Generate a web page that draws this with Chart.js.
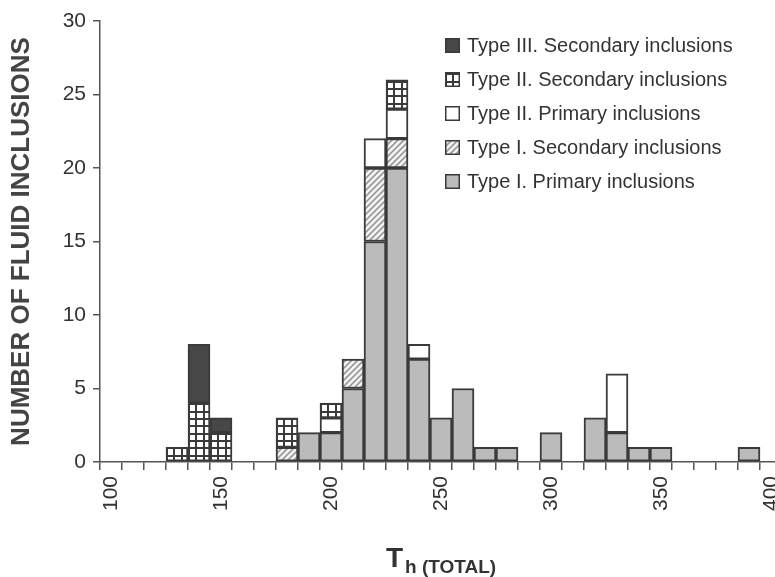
<!DOCTYPE html>
<html>
<head>
<meta charset="utf-8">
<script src="https://cdn.jsdelivr.net/npm/chart.js"></script>
<style>
  html, body { margin: 0; padding: 0; background: #fff; overflow: hidden; }
  canvas { display: block; }
</style>
</head>
<body>
<canvas id="chart" width="790" height="577"></canvas>
<script>
// bins of Th (TOTAL), 10 degrees wide
const binLabels = ['100', '110', '120', '130', '140', '150', '160', '170', '180', '190',
  '200', '210', '220', '230', '240', '250', '260', '270', '280', '290',
  '300', '310', '320', '330', '340', '350', '360', '370', '380', '390', '400'];

// number of inclusions per bin
const typeIPrimary     = [0, 0, 0, 0, 0, 0, 0, 0, 0, 2, 2, 5, 15, 20, 7, 3, 5, 1, 1, 0, 2, 0, 3, 2, 1, 1, 0, 0, 0, 1, 0];
const typeISecondary   = [0, 0, 0, 0, 0, 0, 0, 0, 1, 0, 0, 2, 5, 2, 0, 0, 0, 0, 0, 0, 0, 0, 0, 0, 0, 0, 0, 0, 0, 0, 0];
const typeIIPrimary    = [0, 0, 0, 0, 0, 0, 0, 0, 0, 0, 1, 0, 2, 2, 1, 0, 0, 0, 0, 0, 0, 0, 0, 4, 0, 0, 0, 0, 0, 0, 0];
const typeIISecondary  = [0, 0, 0, 1, 4, 2, 0, 0, 2, 0, 1, 0, 0, 2, 0, 0, 0, 0, 0, 0, 0, 0, 0, 0, 0, 0, 0, 0, 0, 0, 0];
const typeIIISecondary = [0, 0, 0, 0, 4, 1, 0, 0, 0, 0, 0, 0, 0, 0, 0, 0, 0, 0, 0, 0, 0, 0, 0, 0, 0, 0, 0, 0, 0, 0, 0];

const yTicks = [0, 5, 10, 15, 20, 25, 30];
const xLabelsShown = ['100', '150', '200', '250', '300', '350', '400'];

const FONT = "'Liberation Sans', Arial, sans-serif";
const ctx = document.getElementById('chart').getContext('2d');

// fill patterns
function gridPattern() {
  const c = document.createElement('canvas');
  c.width = 22; c.height = 44;
  const g = c.getContext('2d');
  g.fillStyle = '#fff';
  g.fillRect(0, 0, 22, 44);
  g.fillStyle = '#3a3a3a';
  for (let i = 0; i < 3; i++) g.fillRect(Math.round(i * 22 / 3), 0, 2, 44);
  for (let j = 0; j < 6; j++) g.fillRect(0, Math.round(j * 44 / 6), 22, 2);
  return ctx.createPattern(c, 'repeat');
}

function hatchPattern() {
  const c = document.createElement('canvas');
  c.width = 6; c.height = 6;
  const g = c.getContext('2d');
  g.fillStyle = '#f4f4f4';
  g.fillRect(0, 0, 6, 6);
  g.strokeStyle = '#999';
  g.lineWidth = 1.6;
  g.beginPath();
  g.moveTo(-1, 7); g.lineTo(7, -1);
  g.moveTo(-1, 1); g.lineTo(1, -1);
  g.moveTo(5, 7); g.lineTo(7, 5);
  g.stroke();
  return ctx.createPattern(c, 'repeat');
}

const gridFill = gridPattern();
const hatchFill = hatchPattern();

const nz = arr => arr.map(v => v === 0 ? null : v);

function bars(label, data, fill) {
  return {
    label: label,
    data: nz(data),
    backgroundColor: fill,
    borderColor: '#3a3a3a',
    borderWidth: 2,
    borderSkipped: false,
    barPercentage: 1,
    categoryPercentage: 1,
    stack: 'all'
  };
}

// keep patterns anchored to the plot so grid cells line up with the bins
const patternAnchor = {
  id: 'patternAnchor',
  beforeDatasetsDraw(chart) {
    const a = chart.chartArea;
    const m = new DOMMatrix([1, 0, 0, 1, a.left, a.bottom]);
    gridFill.setTransform(m);
    hatchFill.setTransform(m);
  }
};

// legend inside the plot, top right
const boxLegend = {
  id: 'boxLegend',
  afterDraw(chart) {
    const c = chart.ctx;
    const items = chart.data.datasets.slice().reverse();
    const x = 445, y0 = 38, step = 34, size = 15;
    c.save();
    c.font = '20px ' + FONT;
    c.textBaseline = 'middle';
    items.forEach((ds, i) => {
      const y = y0 + i * step;
      c.fillStyle = ds.backgroundColor;
      c.fillRect(x, y, size, size);
      c.strokeStyle = '#3a3a3a';
      c.lineWidth = 1.5;
      c.strokeRect(x + 0.75, y + 0.75, size - 1.5, size - 1.5);
      c.fillStyle = '#333';
      c.fillText(ds.label, x + size + 7, y + size / 2 + 1);
    });
    c.restore();
  }
};

// x axis title with subscript
const xTitle = {
  id: 'xTitle',
  afterDraw(chart) {
    const c = chart.ctx;
    const a = chart.chartArea;
    const cx = (a.left + a.right) / 2;
    c.save();
    c.fillStyle = '#333';
    c.textBaseline = 'alphabetic';
    c.font = 'bold 28px ' + FONT;
    const wT = c.measureText('T').width;
    c.font = 'bold 19px ' + FONT;
    const wS = c.measureText('h (TOTAL)').width;
    const start = cx - (wT + 2 + wS) / 2;
    c.font = 'bold 28px ' + FONT;
    c.fillText('T', start, 567);
    c.font = 'bold 19px ' + FONT;
    c.fillText('h (TOTAL)', start + wT + 2, 573);
    c.restore();
  }
};

new Chart(ctx, {
  type: 'bar',
  data: {
    labels: binLabels,
    datasets: [
      bars('Type I. Primary inclusions', typeIPrimary, '#bbbbbb'),
      bars('Type I. Secondary inclusions', typeISecondary, hatchFill),
      bars('Type II. Primary inclusions', typeIIPrimary, '#ffffff'),
      bars('Type II. Secondary inclusions', typeIISecondary, gridFill),
      bars('Type III. Secondary inclusions', typeIIISecondary, '#474747')
    ]
  },
  options: {
    responsive: false,
    animation: false,
    layout: { padding: { left: 0, right: 8, top: 21, bottom: 0 } },
    plugins: {
      legend: { display: false },
      tooltip: { enabled: false }
    },
    scales: {
      x: {
        stacked: true,
        offset: true,
        afterFit(scale) {
          scale.height = 115;
          scale.paddingLeft = 0;
          scale.paddingRight = 0;
        },
        border: { color: '#555', width: 1.5 },
        grid: { offset: true, drawOnChartArea: false, drawTicks: true, tickLength: 8, color: '#555', lineWidth: 1.5 },
        ticks: {
          autoSkip: false,
          minRotation: 90,
          maxRotation: 90,
          padding: 6,
          color: '#333',
          font: { family: FONT, size: 21 },
          callback(value) {
            const lbl = binLabels[value];
            return xLabelsShown.includes(lbl) ? lbl : '';
          }
        }
      },
      y: {
        stacked: true,
        min: yTicks[0],
        max: yTicks[yTicks.length - 1],
        afterFit(scale) { scale.width = 100; },
        afterBuildTicks(scale) { scale.ticks = yTicks.map(v => ({ value: v })); },
        border: { color: '#555', width: 1.5 },
        grid: { drawOnChartArea: false, drawTicks: true, tickLength: 7, color: '#555', lineWidth: 1.5 },
        ticks: {
          padding: 7,
          color: '#333',
          font: { family: FONT, size: 21 }
        },
        title: {
          display: true,
          text: 'NUMBER OF FLUID INCLUSIONS',
          color: '#444',
          font: { family: FONT, size: 26, weight: 'bold' },
          padding: { top: 6, bottom: 0 }
        }
      }
    }
  },
  plugins: [patternAnchor, boxLegend, xTitle]
});
</script>
</body>
</html>
